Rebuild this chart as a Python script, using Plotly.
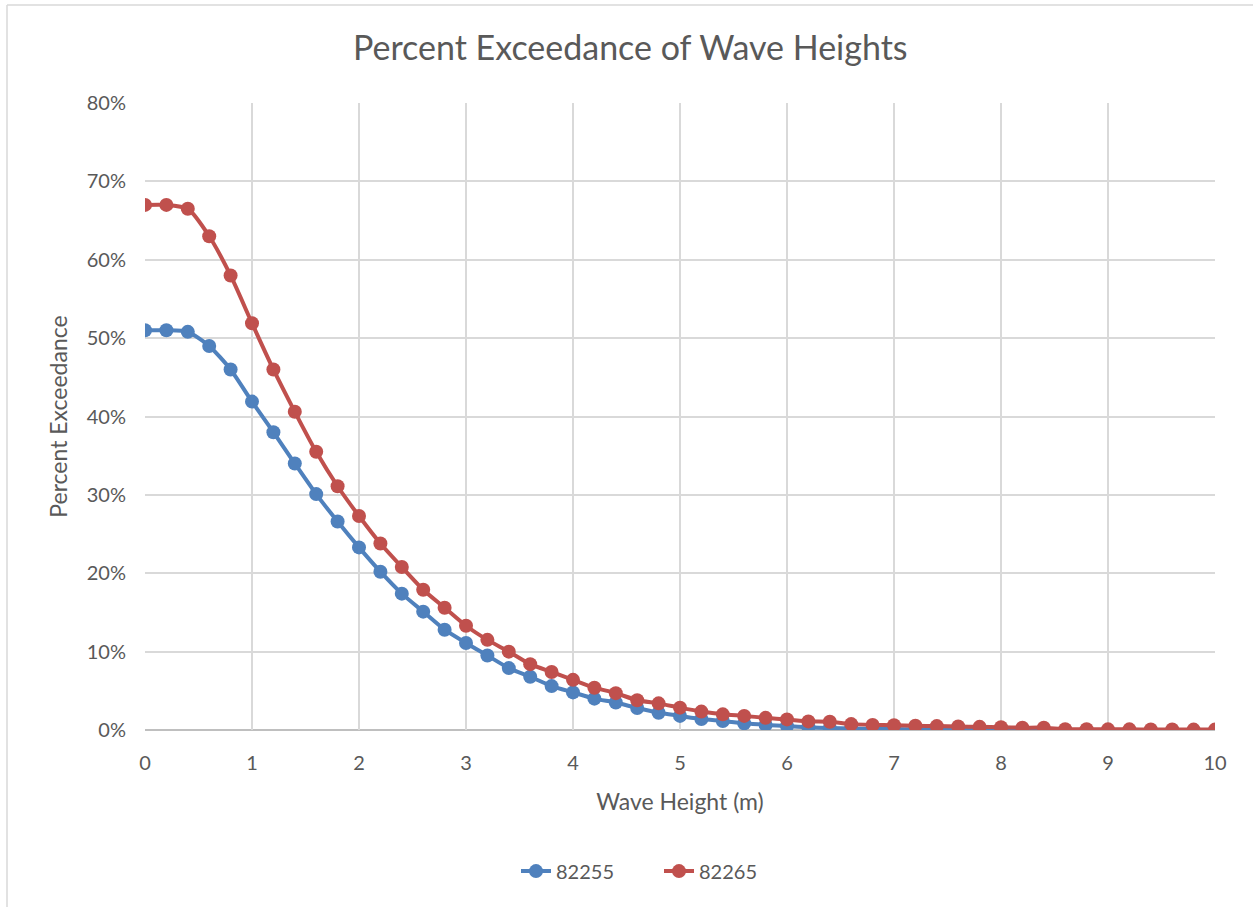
import plotly.graph_objects as go

# Wave heights (m), 0.2 m steps
wave_height = [round(i * 0.2, 1) for i in range(51)]

# Percent exceedance for buoy 82255 (values up to 8.4 m)
exceed_82255 = [
    51.0, 51.0, 50.8, 49.0, 46.0, 41.9, 38.0, 34.0, 30.1, 26.6,
    23.3, 20.2, 17.4, 15.1, 12.8, 11.1, 9.5, 7.9, 6.8, 5.6,
    4.8, 4.0, 3.5, 2.8, 2.2, 1.8, 1.4, 1.15, 0.85, 0.65,
    0.5, 0.35, 0.25, 0.2, 0.15, 0.12, 0.1, 0.08, 0.07, 0.06,
    0.05, 0.05, 0.05,
]

# Percent exceedance for buoy 82265
exceed_82265 = [
    67.0, 67.0, 66.5, 63.0, 58.0, 51.9, 46.0, 40.6, 35.5, 31.1,
    27.3, 23.8, 20.8, 17.9, 15.6, 13.3, 11.5, 10.0, 8.4, 7.4,
    6.4, 5.4, 4.7, 3.8, 3.4, 2.85, 2.35, 2.0, 1.8, 1.55,
    1.35, 1.1, 1.05, 0.75, 0.65, 0.6, 0.55, 0.5, 0.45, 0.4,
    0.35, 0.3, 0.3, 0.1, 0.1, 0.08, 0.08, 0.06, 0.06, 0.05,
    0.05,
]

x_ticks = list(range(0, 11))
y_ticks = list(range(0, 81, 10))

FONT = "Lato, 'Open Sans', sans-serif"
GREY_TEXT = "#595959"

fig = go.Figure()
fig.add_trace(go.Scatter(
    x=wave_height[:len(exceed_82255)],
    y=[v / 100 for v in exceed_82255],
    name="82255",
    mode="lines+markers",
    line=dict(color="#4f81bd", width=4, shape="spline", smoothing=0.6),
    marker=dict(color="#4f81bd", size=14),
))
fig.add_trace(go.Scatter(
    x=wave_height[:len(exceed_82265)],
    y=[v / 100 for v in exceed_82265],
    name="82265",
    mode="lines+markers",
    line=dict(color="#c0504d", width=4, shape="spline", smoothing=0.6),
    marker=dict(color="#c0504d", size=14),
))

fig.update_layout(
    width=1253,
    height=907,
    paper_bgcolor="white",
    plot_bgcolor="white",
    margin=dict(l=145, r=38, t=103, b=177),
    font=dict(family=FONT, color=GREY_TEXT, size=20),
    title=dict(
        text="Percent Exceedance of Wave Heights",
        x=0.503, xanchor="center", xref="container",
        y=0.947, yanchor="middle",
        font=dict(family=FONT, size=34, color=GREY_TEXT),
    ),
    xaxis=dict(
        range=[0, 10],
        tickvals=x_ticks,
        ticktext=[str(v) for v in x_ticks],
        showgrid=True, gridcolor="#d9d9d9", gridwidth=1.5,
        zeroline=False, showline=False,
        ticks="", ticklabelstandoff=19,
        tickfont=dict(size=20, color=GREY_TEXT),
        title=dict(text="Wave Height (m)", font=dict(size=23, color=GREY_TEXT), standoff=20),
    ),
    yaxis=dict(
        range=[0, 0.8],
        tickvals=[v / 100 for v in y_ticks],
        ticktext=[f"{v}%" for v in y_ticks],
        showgrid=True, gridcolor="#d9d9d9", gridwidth=1.5,
        zeroline=False, showline=False,
        ticks="", ticklabelstandoff=18,
        tickfont=dict(size=20, color=GREY_TEXT),
        title=dict(text="Percent Exceedance", font=dict(size=23, color=GREY_TEXT), standoff=12),
    ),
    legend=dict(
        orientation="h",
        x=(516 - 145) / 1070, xanchor="left",
        y=-0.225, yanchor="middle",
        entrywidth=98, entrywidthmode="pixels",
        font=dict(size=20, color=GREY_TEXT),
    ),
    shapes=[
        # bottom axis line at 0%
        dict(type="line", xref="paper", yref="paper", x0=0, x1=1, y0=0, y1=0,
             line=dict(color="#bfbfbf", width=2), layer="below"),
        # chart area border (left and top edges)
        dict(type="line", xref="paper", yref="paper",
             x0=(7 - 145) / 1070, x1=(7 - 145) / 1070,
             y0=-(910 - 730) / 627, y1=(730 - 5) / 627,
             line=dict(color="#d9d9d9", width=1.5)),
        dict(type="line", xref="paper", yref="paper",
             x0=(7 - 145) / 1070, x1=(1260 - 145) / 1070,
             y0=(730 - 5) / 627, y1=(730 - 5) / 627,
             line=dict(color="#d9d9d9", width=1.5)),
    ],
)

fig.write_html("out.html")
